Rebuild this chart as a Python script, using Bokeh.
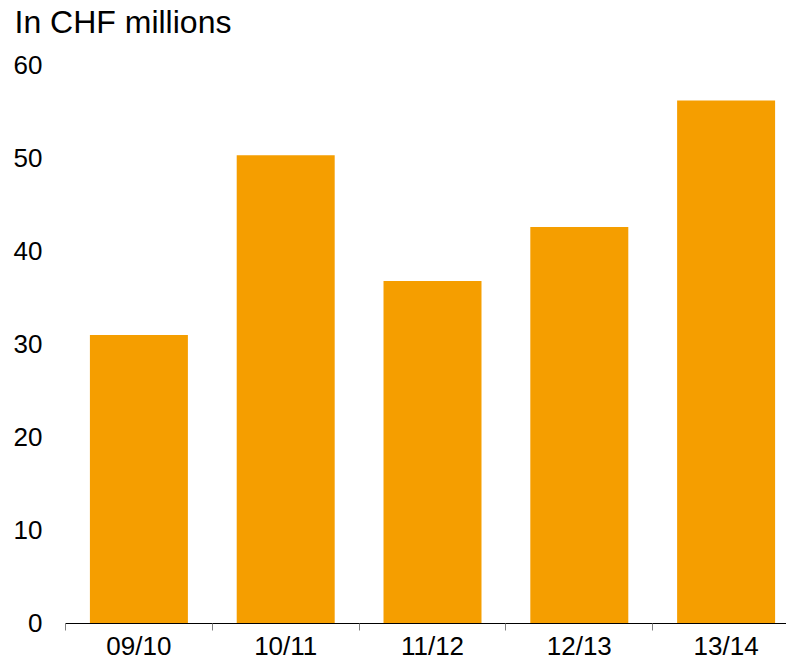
from bokeh.plotting import figure
from bokeh.models import ColumnDataSource, Range1d, FixedTicker, Label
from bokeh.embed import file_html
from bokeh.resources import INLINE

title_text = "In CHF millions"
categories = ["09/10", "10/11", "11/12", "12/13", "13/14"]
values = [31.0, 50.3, 36.8, 42.6, 56.2]
y_ticks = [0, 10, 20, 30, 40, 50, 60]

xs = [i + 0.5 for i in range(len(categories))]
src = ColumnDataSource(dict(x=xs, top=values, cat=categories))

p = figure(width=786, height=660, output_backend="svg", toolbar_location=None,
           x_range=Range1d(-0.4428, 4.9114), y_range=Range1d(-3.975, 66.93),
           min_border_left=0, min_border_right=0, min_border_top=0, min_border_bottom=0)
p.outline_line_color = None
p.grid.visible = False
p.background_fill_color = "white"
p.border_fill_color = "white"

p.vbar(x="x", top="top", width=0.6675, bottom=0, source=src,
       fill_color="#F59E00", line_color=None)

# title
p.add_layout(Label(x=0, y=60, x_offset=-51, y_offset=43.5, text=title_text,
                   text_font="Liberation Sans", text_font_size="32px",
                   text_color="#000000", text_align="left", text_baseline="alphabetic"))

xa = p.xaxis[0]
xa.fixed_location = 0
xa.bounds = (0, len(categories))
xa.ticker = FixedTicker(ticks=xs, minor_ticks=list(range(len(categories) + 1)))
xa.major_label_overrides = {x: c for x, c in zip(xs, categories)}
xa.major_label_text_font = "Liberation Sans"
xa.major_label_text_font_size = "26px"
xa.major_label_text_color = "#000000"
xa.major_label_standoff = 1
xa.major_tick_line_color = None
xa.major_tick_out = 0
xa.major_tick_in = 0
xa.minor_tick_line_color = "#808080"
xa.minor_tick_out = 7
xa.minor_tick_in = 0
xa.axis_line_color = "#000000"
xa.axis_line_width = 1

ya = p.yaxis[0]
ya.fixed_location = 0
ya.ticker = FixedTicker(ticks=y_ticks)
ya.axis_line_color = None
ya.major_tick_line_color = None
ya.minor_tick_line_color = None
ya.major_tick_out = 0
ya.major_tick_in = 0
ya.major_label_text_font = "Liberation Sans"
ya.major_label_text_font_size = "26px"
ya.major_label_text_color = "#000000"
ya.major_label_standoff = 23

open("out.html", "w").write(file_html(p, INLINE))
